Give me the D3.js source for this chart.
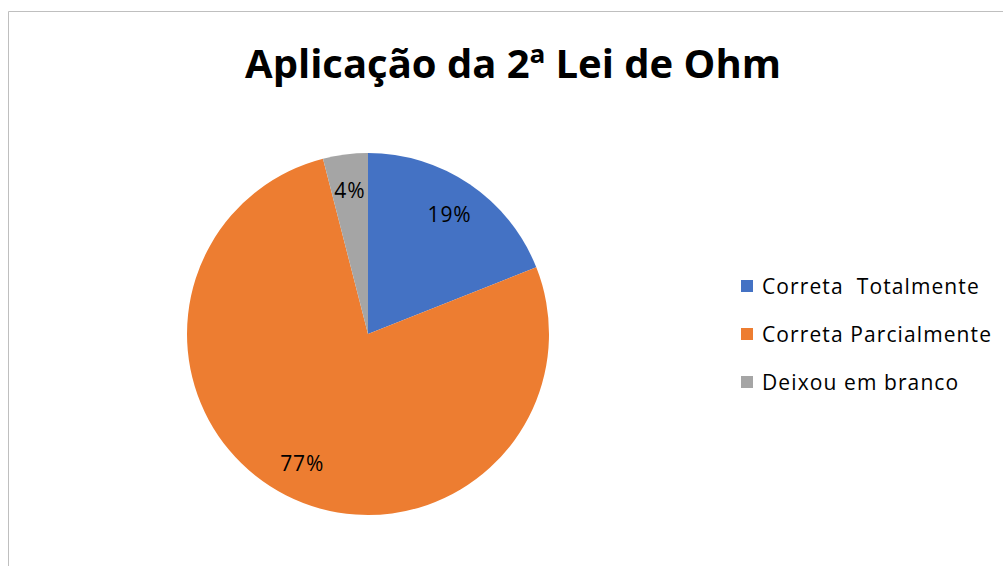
<!DOCTYPE html>
<html>
<head>
<meta charset="utf-8">
<script src="https://cdn.jsdelivr.net/npm/d3@7"></script>
<style>
  html, body { margin: 0; padding: 0; background: #fff; }
  svg { display: block; }
  text { font-family: "Open Sans", sans-serif; }
</style>
</head>
<body>
<svg id="chart" width="1003" height="566"></svg>
<script>
// Answers to the "2ª Lei de Ohm" question
const categories = ["Correta  Totalmente", "Correta Parcialmente", "Deixou em branco"];
const values = [19, 77, 4];
const labels = ["19%", "77%", "4%"];
const colors = ["#4472C4", "#ED7D31", "#A5A5A5"];

const svg = d3.select("#chart");

// chart frame (only top and left edges fall inside the view)
svg.append("path")
  .attr("d", "M8.5,566 L8.5,11.5 L1003,11.5")
  .attr("fill", "none")
  .attr("stroke", "#BFBFBF")
  .attr("stroke-width", 1);

svg.append("text")
  .attr("x", 513)
  .attr("y", 78)
  .attr("text-anchor", "middle")
  .attr("font-size", 40)
  .attr("font-weight", "bold")
  .attr("fill", "#000")
  .text("Aplicação da 2ª Lei de Ohm");

const cx = 368, cy = 334, r = 181;
const pie = d3.pie().sort(null).value(d => d);
const arcs = pie(values);
const arc = d3.arc().innerRadius(0).outerRadius(r);
const labelArc = d3.arc().innerRadius(145).outerRadius(145);

const g = svg.append("g").attr("transform", `translate(${cx},${cy})`);
g.selectAll("path.slice")
  .data(arcs)
  .join("path")
  .attr("class", "slice")
  .attr("d", arc)
  .attr("fill", (d, i) => colors[i]);

g.selectAll("text.lbl")
  .data(arcs)
  .join("text")
  .attr("class", "lbl")
  .attr("transform", d => `translate(${labelArc.centroid(d)})`)
  .attr("text-anchor", "middle")
  .attr("dominant-baseline", "central")
  .attr("font-size", 21)
  .attr("letter-spacing", 0.8)
  .attr("fill", "#000")
  .text((d, i) => labels[i]);

// legend
const legend = svg.append("g").attr("transform", "translate(741,286)");
const rows = legend.selectAll("g")
  .data(categories)
  .join("g")
  .attr("transform", (d, i) => `translate(0,${i * 48})`);
rows.append("rect")
  .attr("x", 0).attr("y", -6)
  .attr("width", 12).attr("height", 12)
  .attr("fill", (d, i) => colors[i]);
rows.append("text")
  .attr("x", 21)
  .attr("y", 0)
  .attr("dominant-baseline", "central")
  .attr("font-size", 21)
  .attr("letter-spacing", 1.1)
  .attr("fill", "#000")
  .style("white-space", "pre")
  .text(d => d);
</script>
</body>
</html>
